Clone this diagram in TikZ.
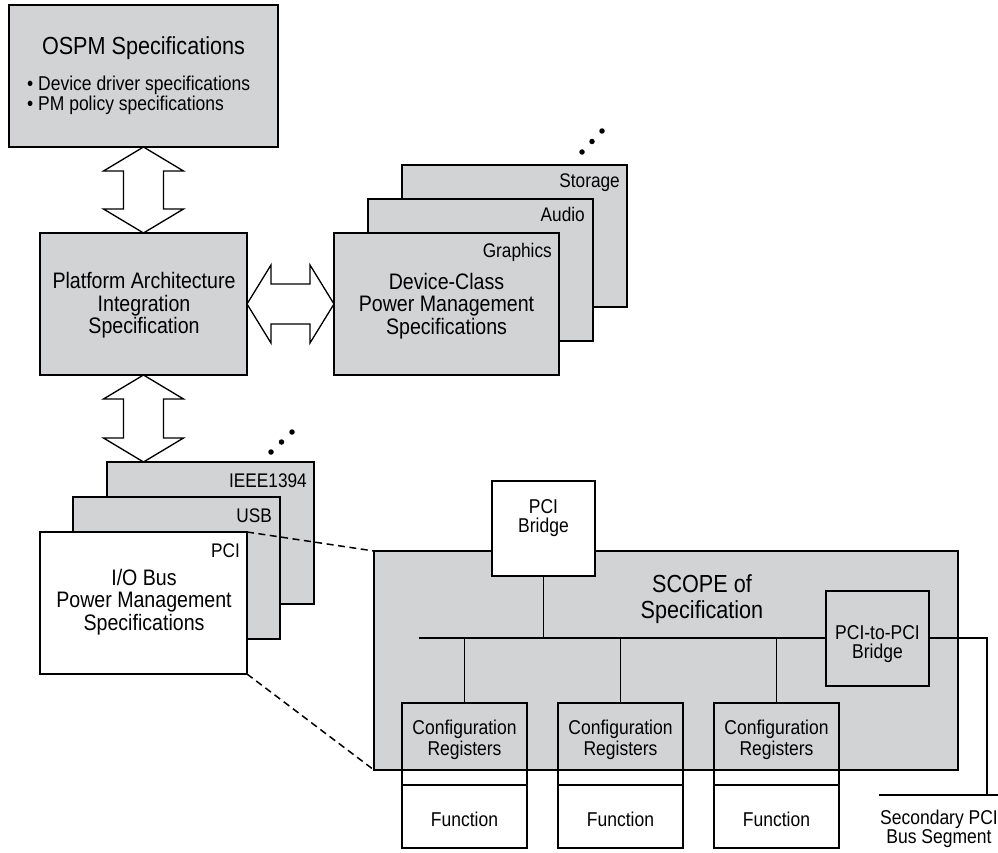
\documentclass[tikz,border=0pt]{standalone}
\usepackage{fontspec}
\setmainfont{Liberation Sans}[FakeStretch=0.875]
\usetikzlibrary{calc}
\definecolor{gry}{RGB}{209,211,212}
\tikzset{
  box/.style={draw, line width=2pt, inner sep=0pt, outer sep=0pt, anchor=north west},
  gbox/.style={box, fill=gry},
  wbox/.style={box, fill=white},
  obox/.style={box},
  sz/.style 2 args={minimum width=#1pt, minimum height=#2pt},
  bigarr/.style={draw, fill=white, line width=1.3pt, line join=miter},
  busline/.style={line width=1.9pt},
  dashline/.style={line width=1.5pt, dash pattern=on 7pt off 4.5pt},
  big/.style={font=\fontsize{24.7}{26}\selectfont, inner sep=0pt, anchor=base},
  mid/.style={font=\fontsize{22.4}{24}\selectfont, inner sep=0pt, anchor=base},
  sml/.style={font=\fontsize{20}{22}\selectfont, inner sep=0pt, anchor=base},
  lbl/.style={font=\fontsize{19.7}{22}\selectfont, inner sep=0pt, anchor=base east},
  dotmark/.style={fill=black, circle, inner sep=0pt, minimum size=5.5pt},
}
\begin{document}
\begin{tikzpicture}[x=1pt,y=-1pt]
\useasboundingbox (0,0) rectangle (998,853);

% ---- top boxes
\node[gbox, sz={269}{142}] (ospm) at (9,5) {};
\node[gbox, sz={207}{142}] (pais) at (40,233) {};
\node[gbox, sz={225}{142}] (storage) at (402,165) {};
\node[gbox, sz={225}{142}] (audio) at (368,199) {};
\node[gbox, sz={225}{142}] (graphics) at (334,233) {};

% ---- I/O bus stack
\node[gbox, sz={207}{142}] (ieee) at (107,462) {};
\node[gbox, sz={207}{142}] (usb) at (73,497) {};
\node[wbox, sz={207}{142}] (pci) at (40,532) {};

% ---- scope
\node[gbox, sz={584}{219}] (scope) at (374,551) {};
\node[wbox, sz={103}{95}] (pcib) at (492,481) {};
\coordinate (busL) at (419,638);
\node[gbox, sz={103}{95}] (p2p) at (826,590.5) {};
\draw[busline] (pcib.south) -- (pcib.south |- busL);
\draw[busline] (busL) -- (p2p.west);
\coordinate (secC) at (987,795);
\coordinate (secL) at (879,795);
\coordinate (secR) at (998,795);
\draw[busline] (p2p.east) -| (secC);
\draw[busline] (secL) -- (secR);
\foreach \i/\x in {1/402,2/558,3/714}{
  \node[obox, sz={125}{82}] (cfg\i) at (\x,703) {};
  \node[wbox, sz={125}{63}] (fn\i) at (\x,785) {};
  \draw[busline] (cfg\i.north) -- (cfg\i.north |- busL);
  \node[sml] (cfgA\i) at ($(\x,734.5)+(62.5,0)$) {Configuration};
  \node[sml] (cfgB\i) at ($(\x,755.5)+(62.5,0)$) {Registers};
  \node[sml] (fnT\i) at ($(\x,826.5)+(62.5,0)$) {Function};
}

% ---- big arrows
\draw[bigarr] (ospm.south) -- ++(40,24) -- ++(-20,0) -- ++(0,38) -- ++(20,0)
  -- (pais.north) -- ++(-40,-24) -- ++(20,0) -- ++(0,-38) -- ++(-20,0) -- cycle;
\coordinate (a3) at (pais.south |- ieee.north);
\draw[bigarr] (pais.south) -- ++(40,24) -- ++(-20,0) -- ++(0,39) -- ++(20,0)
  -- (a3) -- ++(-40,-24) -- ++(20,0) -- ++(0,-39) -- ++(-20,0) -- cycle;
\draw[bigarr] (pais.east) -- ++(24,-39) -- ++(0,19) -- ++(39,0) -- ++(0,-19)
  -- (graphics.west) -- ++(-24,39) -- ++(0,-19) -- ++(-39,0) -- ++(0,19) -- cycle;

% ---- dots
\node[dotmark] (d1) at (582,152) {};
\node[dotmark] (d2) at (592,141.5) {};
\node[dotmark] (d3) at (602,131) {};
\node[dotmark] (d4) at (271,452) {};
\node[dotmark] (d5) at (281.5,442) {};
\node[dotmark] (d6) at (292,432) {};

% ---- dashed zoom lines
\draw[dashline] (pci.north east) -- (scope.north west);
\draw[dashline] (pci.south east) -- (scope.south west);

% ---- texts
\node[big] (tospm) at (143.5,55) {OSPM Specifications};
\node[sml, anchor=base west] (tb1) at (27,91) {• Device driver specifications};
\node[sml, anchor=base west] (tb2) at (27,111) {• PM policy specifications};

\node[mid] (tp1) at (144,288.5) {Platform Architecture};
\node[mid] (tp2) at (144,311) {Integration};
\node[mid] (tp3) at (144,333.5) {Specification};

\node[lbl] (lst) at (620,188) {Storage};
\node[lbl] (lau) at (585,222) {Audio};
\node[lbl] (lgr) at (552,257) {Graphics};
\node[mid] (td1) at (446.5,289) {Device-Class};
\node[mid] (td2) at (446.5,311.5) {Power Management};
\node[mid] (td3) at (446.5,334) {Specifications};

\node[lbl] (lie) at (307,487) {IEEE1394};
\node[lbl] (lus) at (272,522) {USB};
\node[lbl] (lpc) at (240,557) {PCI};
\node[mid] (ti1) at (144,585) {I/O Bus};
\node[mid] (ti2) at (144,607.5) {Power Management};
\node[mid] (ti3) at (144,630.5) {Specifications};

\node[sml] (tpb1) at (543.5,513) {PCI};
\node[sml] (tpb2) at (543.5,532.5) {Bridge};
\node[big] (ts1) at (702,592) {SCOPE of};
\node[big] (ts2) at (702,618.5) {Specification};
\node[sml] (tpp1) at (877.5,639) {PCI-to-PCI};
\node[sml] (tpp2) at (877.5,658) {Bridge};
\node[sml] (tsec1) at (939,824) {Secondary PCI};
\node[sml] (tsec2) at (939,843) {Bus Segment};
\end{tikzpicture}
\end{document}
